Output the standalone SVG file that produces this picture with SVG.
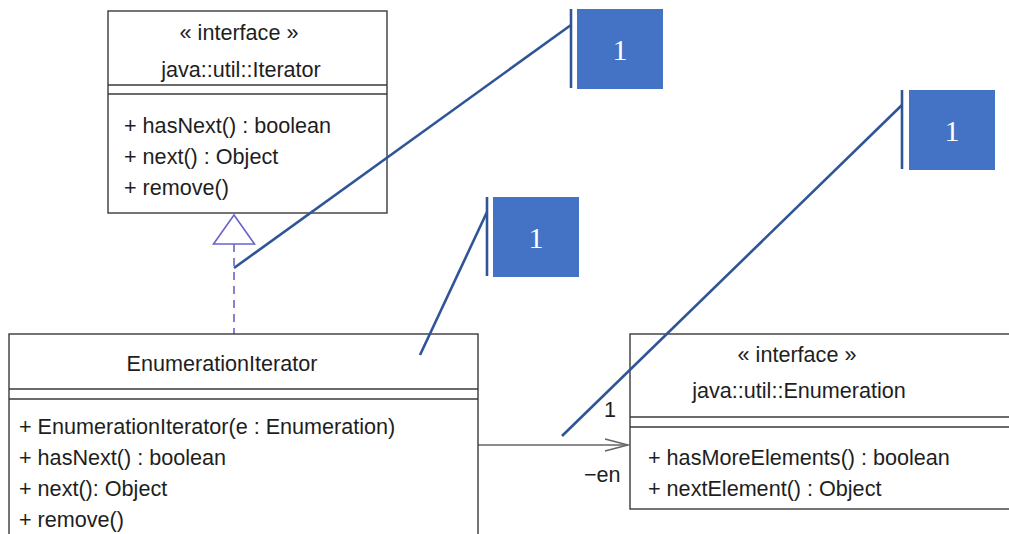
<svg xmlns="http://www.w3.org/2000/svg" width="1009" height="534" viewBox="0 0 1009 534">
  <style>
    .box { fill: #ffffff; stroke: #3a3a3a; stroke-width: 1.4; }
    .sep { stroke: #3a3a3a; stroke-width: 1.4; }
    .t { font-family: "Liberation Sans", Arial, sans-serif; font-size: 21.6px; fill: #1e1e1e; }
    .c { text-anchor: middle; }
    .call-box { fill: #4472c4; }
    .call-line { stroke: #2f5597; stroke-width: 2.6; fill: none; }
    .call-num { font-family: "Liberation Serif", "Times New Roman", serif; font-size: 30px; fill: #ffffff; text-anchor: middle; }
  </style>

  <!-- connectors -->
  <g id="connectors">
    <!-- realization: EnumerationIterator implements Iterator -->
    <line x1="234" y1="244" x2="234" y2="334" stroke="#6a64c8" stroke-width="1.6" stroke-dasharray="8,6"/>
    <polygon points="234,215 213.5,244 254.5,244" fill="#ffffff" stroke="#6a64c8" stroke-width="1.6"/>
    <!-- association: EnumerationIterator -> Enumeration -->
    <line x1="478" y1="445" x2="628" y2="445" stroke="#666666" stroke-width="1.5"/>
    <polyline points="605,439 628,445 605,451" fill="none" stroke="#666666" stroke-width="1.5"/>
    <text class="t" x="604" y="417">1</text>
    <text class="t" x="584" y="482">−en</text>
  </g>

  <!-- Iterator interface -->
  <g id="iterator">
    <rect class="box" x="108" y="11" width="279" height="202"/>
    <line class="sep" x1="108" y1="85" x2="387" y2="85"/>
    <line class="sep" x1="108" y1="94" x2="387" y2="94"/>
    <text class="t c" x="239" y="40">« interface »</text>
    <text class="t c" x="241" y="77">java::util::Iterator</text>
    <text class="t" x="124" y="133">+ hasNext() : boolean</text>
    <text class="t" x="124" y="164">+ next() : Object</text>
    <text class="t" x="124" y="195">+ remove()</text>
  </g>

  <!-- EnumerationIterator class -->
  <g id="enumeration-iterator">
    <rect class="box" x="9" y="334" width="469" height="210"/>
    <line class="sep" x1="9" y1="389" x2="478" y2="389"/>
    <line class="sep" x1="9" y1="399" x2="478" y2="399"/>
    <text class="t c" x="222" y="371">EnumerationIterator</text>
    <text class="t" x="19" y="434">+ EnumerationIterator(e : Enumeration)</text>
    <text class="t" x="19" y="465">+ hasNext() : boolean</text>
    <text class="t" x="19" y="496">+ next(): Object</text>
    <text class="t" x="19" y="527">+ remove()</text>
  </g>

  <!-- Enumeration interface -->
  <g id="enumeration">
    <rect class="box" x="630" y="334" width="390" height="175"/>
    <line class="sep" x1="630" y1="417" x2="1020" y2="417"/>
    <line class="sep" x1="630" y1="427" x2="1020" y2="427"/>
    <text class="t c" x="797" y="362">« interface »</text>
    <text class="t c" x="799" y="398">java::util::Enumeration</text>
    <text class="t" x="648" y="465">+ hasMoreElements() : boolean</text>
    <text class="t" x="648" y="496">+ nextElement() : Object</text>
  </g>

  <!-- callout on the realization -->
  <g id="callout-1">
    <line class="call-line" x1="571" y1="25" x2="234" y2="268"/>
    <line class="call-line" x1="571" y1="9" x2="571" y2="88"/>
    <rect class="call-box" x="577" y="9" width="86" height="80"/>
    <text class="call-num" x="620" y="60">1</text>
  </g>

  <!-- callout on EnumerationIterator -->
  <g id="callout-2">
    <line class="call-line" x1="487" y1="212" x2="420" y2="355"/>
    <line class="call-line" x1="487" y1="197" x2="487" y2="276"/>
    <rect class="call-box" x="493" y="197" width="86" height="80"/>
    <text class="call-num" x="536" y="248">1</text>
  </g>

  <!-- callout on the association -->
  <g id="callout-3">
    <line class="call-line" x1="902" y1="105" x2="562" y2="436"/>
    <line class="call-line" x1="902" y1="90" x2="902" y2="169"/>
    <rect class="call-box" x="909" y="90" width="86" height="80"/>
    <text class="call-num" x="952" y="141">1</text>
  </g>
</svg>
